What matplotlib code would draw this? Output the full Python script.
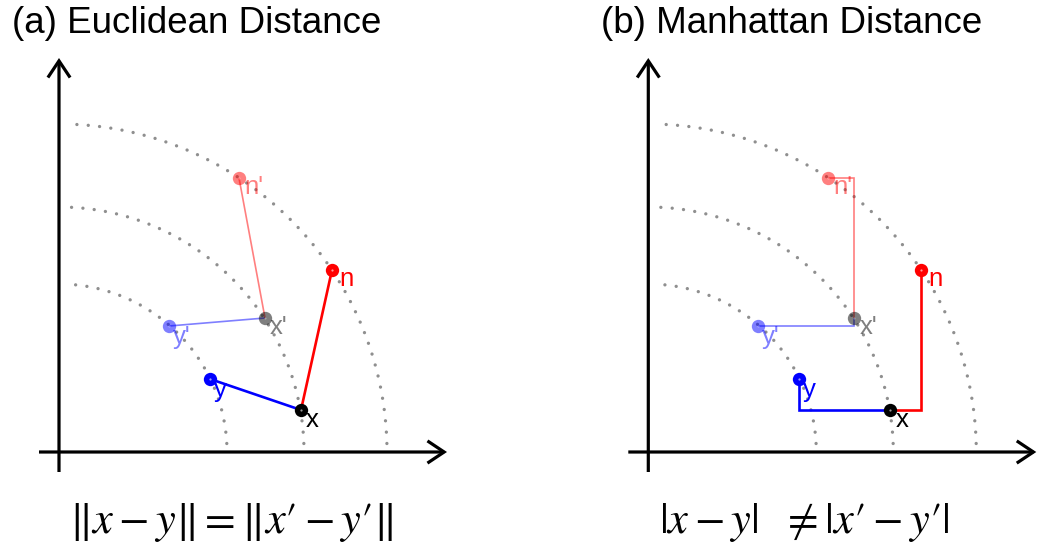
import numpy as np
import matplotlib
matplotlib.use("Agg")
import matplotlib.pyplot as plt
from matplotlib.patches import FancyArrowPatch

plt.rcParams['font.family'] = ['Liberation Sans', 'DejaVu Sans']
plt.rcParams['mathtext.fontset'] = 'stix'

# ---- data (one unit = 100 px on the canvas) ----
titles = ["(a) Euclidean Distance", "(b) Manhattan Distance"]
formulas = ["$\u2016x - y\u2016 = \u2016x\u2032 - y\u2032\u2016$",
            r"$|x - y|\ \ \neq |x" + "\u2032" + r" - y" + "\u2032" + "|$"]
radii = [1.68, 2.45, 3.28]

point_names = ["x", "y", "n", "x'", "y'", "n'"]
point_x = [2.42, 1.51, 2.73, 2.06, 1.10, 1.80]
point_y = [0.42, 0.73, 1.82, 1.34, 1.26, 2.74]
point_colors = ["black", "blue", "red", "black", "blue", "red"]
point_alpha = [1.0, 1.0, 1.0, 0.5, 0.5, 0.5]
label_dx = [5, 4, 7, 5, 4, 5]      # label offsets in px
label_dy = [-10, -11, -9, -9, -11, -9]

# segments: (from, to, colour, alpha, width)
segments = [("x", "y", "blue", 1.0, 1.9),
            ("x", "n", "red", 1.0, 1.9),
            ("x'", "y'", "blue", 0.5, 1.2),
            ("x'", "n'", "red", 0.5, 1.2)]

W, H = 1040, 549
fig = plt.figure(figsize=(W / 100, H / 100), dpi=100)

origins_px = [(59.0, 452.0), (648.3, 452.0)]
pad = 0.45
span = 4.6
pts = dict(zip(point_names, zip(point_x, point_y)))

for k, (ox, oy) in enumerate(origins_px):
    left = (ox - pad * 100) / W
    bottom = (H - oy - pad * 100) / H
    ax = fig.add_axes([left, bottom, span * 100 / W, span * 100 / H])
    ax.set_xlim(-pad, span - pad)
    ax.set_ylim(-pad, span - pad)
    ax.axis('off')

    # coordinate axes with open arrow heads
    for (x0, y0, x1, y1) in [(-0.20, 0.0, 3.88, 0.0), (0.0, -0.20, 0.0, 3.94)]:
        ax.add_patch(FancyArrowPatch((x0, y0), (x1, y1),
                                     arrowstyle='->,head_length=7.5,head_width=5',
                                     mutation_scale=1.6, lw=2.3, color='black',
                                     shrinkA=0, shrinkB=0, clip_on=False,
                                     joinstyle='miter', capstyle='butt'))

    # dotted circles of equal distance
    for r in radii:
        tmin = np.arcsin(0.085 / r)
        t = np.linspace(tmin, np.pi / 2 - tmin, 300)
        ax.plot(r * np.cos(t), r * np.sin(t), color='#8f8f8f', lw=2.4,
                linestyle=(0, (0.01, 3.4)), dash_capstyle='round')

    # distance paths
    for a, b, c, al, lw in segments:
        (ax_, ay_), (bx_, by_) = pts[a], pts[b]
        if k == 0:
            xs, ys = [ax_, bx_], [ay_, by_]
        elif a == "x":
            xs, ys = [ax_, bx_, bx_], [ay_, ay_, by_]
        else:
            xs, ys = [ax_, ax_, bx_], [ay_, by_, by_]
        ax.plot(xs, ys, color=c, alpha=al, lw=lw, solid_capstyle='butt',
                solid_joinstyle='miter')

    # points and labels
    for i, name in enumerate(point_names):
        px, py = point_x[i], point_y[i]
        ax.plot(px, py, 'o', ms=9.6, color=point_colors[i], alpha=point_alpha[i],
                mec='none', zorder=5)
        ax.plot(px, py, 'o', ms=1.6, color='white', alpha=0.6 * point_alpha[i],
                mec='none', zorder=6)
        ax.annotate(name, (px, py),
                    xytext=(label_dx[i] * 0.72, label_dy[i] * 0.72),
                    textcoords='offset points', ha='left', va='center',
                    fontsize=18.5, color=point_colors[i], alpha=point_alpha[i],
                    zorder=7)

# panel titles
for k, (ox, oy) in enumerate(origins_px):
    fig.text((ox - 47) / W, 1 - 33.3 / H, titles[k], fontsize=26.5,
             ha='left', va='baseline', color='black')

# formulas under the panels
fig.text(231 / W, 1 - 522 / H, formulas[0], fontsize=32, ha='center', va='center')
fig.text((231 + 573) / W, 1 - 522 / H, formulas[1], fontsize=32, ha='center', va='center')

fig.savefig("out.png", dpi=100, facecolor='white')
